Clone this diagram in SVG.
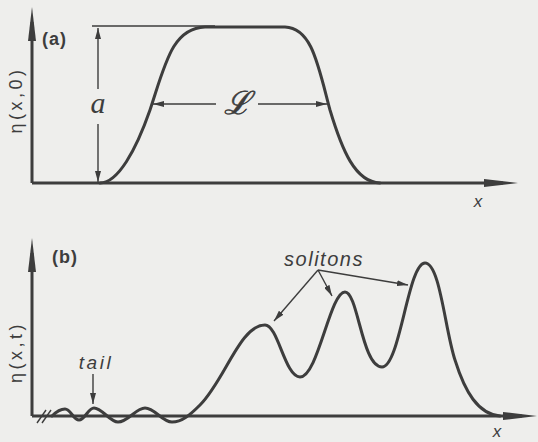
<svg xmlns="http://www.w3.org/2000/svg" width="538" height="442" viewBox="0 0 538 442">
<defs>
<marker id="axh" viewBox="0 0 34 8" refX="19" refY="4" markerWidth="34" markerHeight="8" markerUnits="userSpaceOnUse" orient="auto"><path d="M0,0 L34,4 L0,8 z" fill="#3d3d3d"/></marker>
<marker id="ah" viewBox="0 0 11 6" refX="11" refY="3" markerWidth="11" markerHeight="6" markerUnits="userSpaceOnUse" orient="auto-start-reverse"><path d="M0,0 L11,3 L0,6 z" fill="#3d3d3d"/></marker>
</defs>
<style>
.axis{stroke:#3d3d3d;stroke-width:3;fill:none}
.curve{stroke:#3d3d3d;stroke-width:3;fill:none;stroke-linejoin:round;stroke-linecap:round}
.thin{stroke:#3d3d3d;stroke-width:1.4;fill:none}
.lab{font-family:"Liberation Sans",Arial,sans-serif;fill:#3d3d3d}
</style>
<rect x="0" y="0" width="538" height="442" fill="#eeeeec"/>

<g id="panel-a">
  <g id="axes-a">
    <path class="axis" d="M32,183 L32,22" marker-end="url(#axh)"/>
    <path class="axis" d="M32,183 L503,183" marker-end="url(#axh)"/>
  </g>
  <text class="lab" x="42" y="45" font-size="18" font-weight="bold" letter-spacing="1">(a)</text>
  <text class="lab" x="0" y="0" font-size="18" letter-spacing="3.5" text-anchor="middle" transform="translate(22,100) rotate(-90)">η(x,0)</text>
  <text class="lab" x="478" y="207" font-size="17" font-style="italic" text-anchor="middle">x</text>
  <path class="curve" d="M100,183 C118,183 136,150 150,110 C165,65 172,28 205,27 L285,27 C312,28 318,65 330,110 C342,150 355,182 380,183"/>
  <g id="amplitude">
    <line class="thin" x1="92" y1="26" x2="215" y2="26"/>
    <line class="thin" x1="98" y1="89" x2="98" y2="28" marker-end="url(#ah)"/>
    <line class="thin" x1="98" y1="124" x2="98" y2="182" marker-end="url(#ah)"/>
    <text x="98" y="113" font-family="Liberation Serif,serif" font-style="italic" font-size="30" fill="#3d3d3d" text-anchor="middle">a</text>
  </g>
  <g id="width">
    <line class="thin" x1="216" y1="104" x2="153" y2="104" marker-end="url(#ah)"/>
    <line class="thin" x1="258" y1="104" x2="327" y2="104" marker-end="url(#ah)"/>
    <text x="237" y="114" font-family="DejaVu Serif,serif" font-style="italic" font-size="32" fill="#3d3d3d" stroke="#3d3d3d" stroke-width="0.6" text-anchor="middle">ℒ</text>
  </g>
</g>

<g id="panel-b">
  <g id="axes-b">
    <path class="axis" d="M32,416 L32,253" marker-end="url(#axh)"/>
    <path class="axis" d="M32,416 L522,416" marker-end="url(#axh)"/>
    <line class="thin" x1="37" y1="423" x2="46" y2="410"/>
    <line class="thin" x1="42" y1="423" x2="51" y2="410"/>
  </g>
  <text class="lab" x="52" y="263" font-size="18" font-weight="bold" letter-spacing="1">(b)</text>
  <text class="lab" x="0" y="0" font-size="18" letter-spacing="3.5" text-anchor="middle" transform="translate(22,352) rotate(-90)">η(x,t)</text>
  <text class="lab" x="497" y="437" font-size="17" font-style="italic" text-anchor="middle">x</text>
  <path class="curve" d="M52,416 C57,411 60,409 65,409 C71,409 73,420 79,420 C85,420 88,408 94,408 C102,408 110,422 118,422 C128,422 136,408 145,408 C155,408 162,422 172,422 C182,422 190,415 200,405 C225,380 240,325 265,325 C278,325 285,377 300,377 C318,377 330,292 345,292 C358,292 362,367 382,367 C400,367 408,263 425,263 C440,263 445,330 455,360 C465,392 478,414 500,416"/>
  <g id="tail-label">
    <text class="lab" x="96" y="369" font-size="19" font-style="italic" letter-spacing="2.5" text-anchor="middle">tail</text>
    <line class="thin" x1="93" y1="374" x2="93" y2="404" marker-end="url(#ah)"/>
  </g>
  <g id="solitons-label">
    <text class="lab" x="324" y="266" font-size="20" font-style="italic" letter-spacing="1.5" text-anchor="middle">solitons</text>
    <line class="thin" x1="318" y1="270" x2="274" y2="321" marker-end="url(#ah)"/>
    <line class="thin" x1="318" y1="270" x2="332" y2="296" marker-end="url(#ah)"/>
    <line class="thin" x1="318" y1="270" x2="408" y2="285" marker-end="url(#ah)"/>
  </g>
</g>
</svg>
